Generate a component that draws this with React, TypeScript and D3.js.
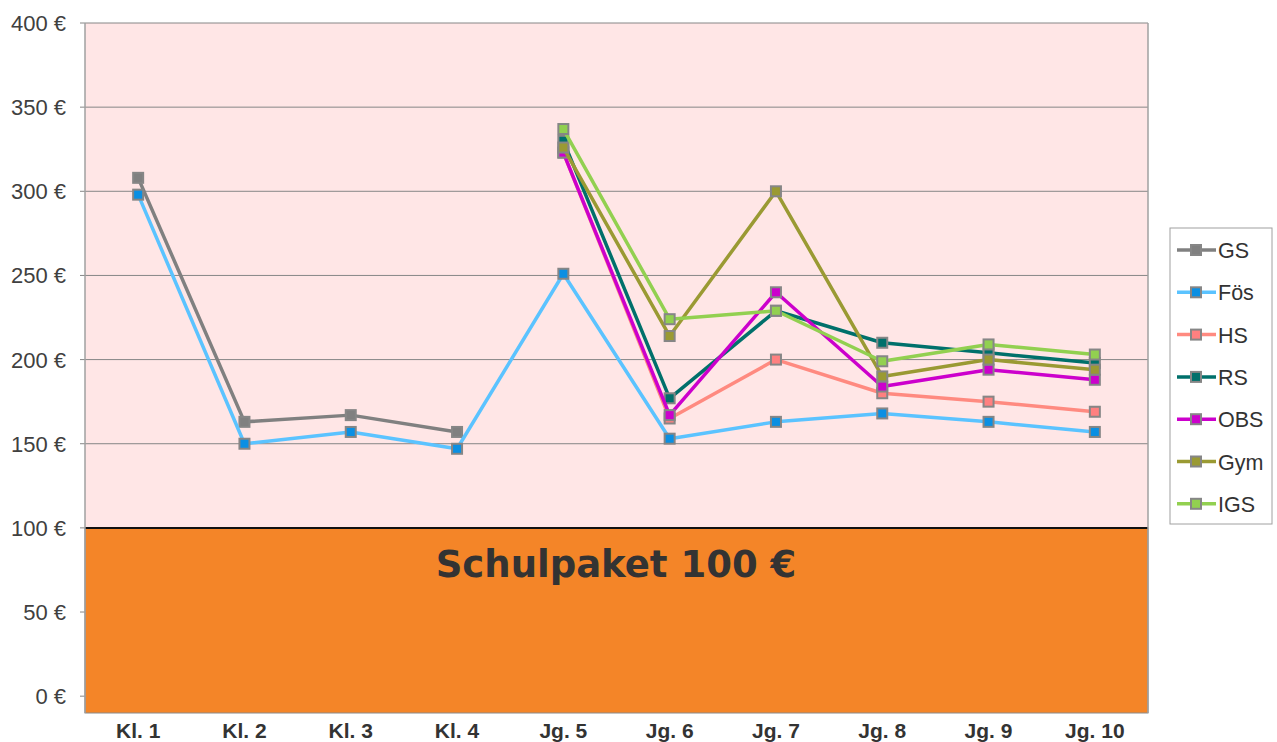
import React from "react";
import * as d3 from "d3";

const W = 1277;
const H = 742;
const margin = { top: 23, right: 129, bottom: 29, left: 85 };

const categories = ["Kl. 1", "Kl. 2", "Kl. 3", "Kl. 4", "Jg. 5", "Jg. 6", "Jg. 7", "Jg. 8", "Jg. 9", "Jg. 10"];
const yTicks = [0, 50, 100, 150, 200, 250, 300, 350, 400];

// null = no value for this class
const gs = [308, 163, 167, 157, null, null, null, null, null, null];
const foes = [298, 150, 157, 147, 251, 153, 163, 168, 163, 157];
const hs = [null, null, null, null, 323, 165, 200, 180, 175, 169];
const rs = [null, null, null, null, 330, 177, 229, 210, 204, 198];
const obs = [null, null, null, null, 323, 167, 240, 184, 194, 188];
const gym = [null, null, null, null, 326, 214, 300, 190, 200, 194];
const igs = [null, null, null, null, 337, 224, 229, 199, 209, 203];

const series = [
  { name: "GS", values: gs, line: "#808080", fill: "#808080" },
  { name: "Fös", values: foes, line: "#5bc3ff", fill: "#0a8fe3" },
  { name: "HS", values: hs, line: "#ff8a80", fill: "#ff8080" },
  { name: "RS", values: rs, line: "#00706b", fill: "#00706b" },
  { name: "OBS", values: obs, line: "#cc00cc", fill: "#cc00cc" },
  { name: "Gym", values: gym, line: "#9a9a33", fill: "#9a9a33" },
  { name: "IGS", values: igs, line: "#92d050", fill: "#92d050" },
];

const schulpaket = 100;

export default function App() {
  const x = d3
    .scaleBand()
    .domain(categories)
    .range([margin.left, W - margin.right]);
  const y = d3
    .scaleLinear()
    .domain([-10, 400])
    .range([H - margin.bottom, margin.top]);

  const cx = (c: string) => (x(c) as number) + x.bandwidth() / 2;

  const line = d3
    .line<{ c: string; v: number | null }>()
    .defined((d) => d.v != null)
    .x((d) => cx(d.c))
    .y((d) => y(d.v as number));

  const plotL = margin.left;
  const plotR = W - margin.right;
  const plotB = H - margin.bottom;
  const font = "'Liberation Sans', Arial, sans-serif";

  const legendX = 1170;
  const legendY = 228;
  const legendStep = 42.3;

  return (
    <svg width={W} height={H} style={{ position: "absolute", left: 0, top: 0 }}>
      <rect x={0} y={0} width={W} height={H} fill="#ffffff" />
      {/* plot background */}
      <rect x={plotL} y={margin.top} width={plotR - plotL} height={plotB - margin.top} fill="#ffe6e6" />
      {/* grid */}
      {yTicks.map((t) => (
        <line key={t} x1={plotL - 5} x2={plotR} y1={y(t)} y2={y(t)} stroke="#868686" strokeWidth={1} />
      ))}
      {/* Schulpaket block */}
      <rect
        x={plotL}
        y={y(schulpaket)}
        width={plotR - plotL}
        height={plotB - y(schulpaket)}
        fill="#f48528"
        stroke="#8a8a8a"
        strokeWidth={1}
      />
      <line x1={plotL} x2={plotR} y1={y(schulpaket)} y2={y(schulpaket)} stroke="#111" strokeWidth={2} />
      <text
        x={616}
        y={577}
        textAnchor="middle"
        fontFamily="'DejaVu Sans', Verdana, sans-serif"
        fontWeight="bold"
        fontSize={37}
        fill="#333333"
      >
        Schulpaket 100 €
      </text>
      {/* axes borders */}
      <line x1={plotL} x2={plotL} y1={margin.top} y2={plotB} stroke="#a0a0a0" strokeWidth={1.5} />
      <line x1={plotR} x2={plotR} y1={margin.top} y2={plotB} stroke="#a0a0a0" strokeWidth={1.5} />
      {/* y labels */}
      {yTicks.map((t) => (
        <text key={t} x={66} y={y(t) + 8} textAnchor="end" fontFamily={font} fontSize={22} fill="#404040">
          {t} €
        </text>
      ))}
      {/* x labels */}
      {categories.map((c) => (
        <text key={c} x={cx(c)} y={738} textAnchor="middle" fontFamily={font} fontWeight="bold" fontSize={21} fill="#333333">
          {c}
        </text>
      ))}
      {/* series */}
      {series.map((s) => {
        const pts = categories.map((c, i) => ({ c, v: s.values[i] }));
        return (
          <g key={s.name}>
            <path d={line(pts) || ""} fill="none" stroke={s.line} strokeWidth={3.5} strokeLinejoin="round" />
            {pts
              .filter((p) => p.v != null)
              .map((p) => (
                <rect
                  key={p.c}
                  x={cx(p.c) - 5}
                  y={y(p.v as number) - 5}
                  width={10}
                  height={10}
                  fill={s.fill}
                  stroke="#868686"
                  strokeWidth={2}
                />
              ))}
          </g>
        );
      })}
      {/* legend */}
      <rect x={legendX} y={legendY} width={102} height={296} fill="#ffffff" stroke="#a0a0a0" strokeWidth={1} />
      {series.map((s, i) => {
        const ly = legendY + 22 + i * legendStep;
        return (
          <g key={s.name}>
            <line x1={legendX + 7} x2={legendX + 46} y1={ly} y2={ly} stroke={s.line} strokeWidth={3.5} />
            <rect x={legendX + 21} y={ly - 5} width={10} height={10} fill={s.fill} stroke="#868686" strokeWidth={2} />
            <text x={legendX + 48} y={ly + 8} fontFamily={font} fontSize={21.5} fill="#333333">
              {s.name}
            </text>
          </g>
        );
      })}
    </svg>
  );
}
